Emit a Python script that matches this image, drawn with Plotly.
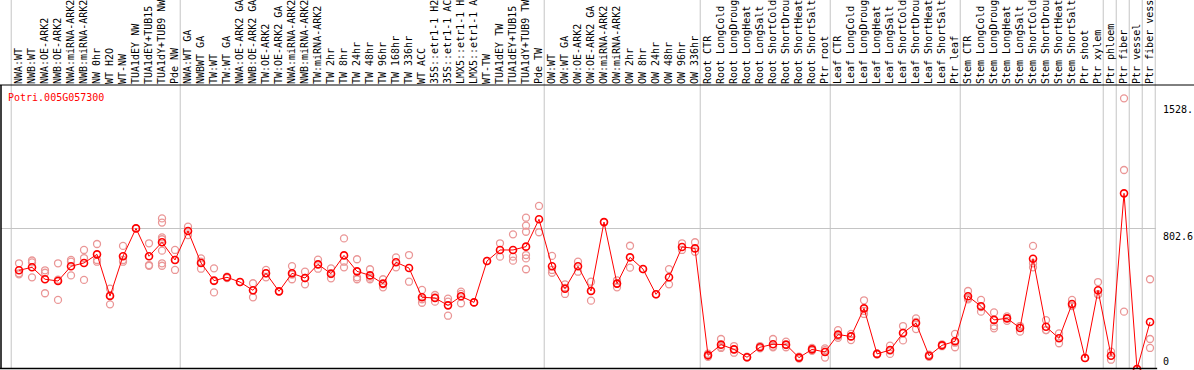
import plotly.graph_objects as go

labels = [
    "NWA:WT", "NWB:WT", "NWA:OE-ARK2", "NWB:OE-ARK2", "NWA:miRNA-ARK2", "NWB:miRNA-ARK2",
    "NW 0hr", "WT H2O", "WT-NW", "TUA1dEY NW", "TUA1dEY+TUB15", "TUA1dY+TUB9 NW", "Pde NW",
    "NWA:WT GA", "NWBWT GA", "TW:WT", "TW:WT GA", "NWA:OE-ARK2 GA", "NWB:OE-ARK2 GA",
    "TW:OE-ARK2", "TW:OE-ARK2 GA", "NWA:miRNA-ARK2", "NWB:miRNA-ARK2", "TW:miRNA-ARK2",
    "TW 2hr", "TW 8hr", "TW 24hr", "TW 48hr", "TW 96hr", "TW 168hr", "TW 336hr", "WT ACC",
    "35S::etr1-1 H2", "35S::etr1-1 AC", "LMX5::etr1-1 H", "LMX5::etr1-1 A", "WT-TW",
    "TUA1dEY TW", "TUA1dEY+TUB15", "TUA1dY+TUB9 TW", "Pde TW",
    "OW:WT", "OW:WT GA", "OW:OE-ARK2", "OW:OE-ARK2 GA", "OW:miRNA-ARK2", "OW:miRNA-ARK2",
    "OW 2hr", "OW 8hr", "OW 24hr", "OW 48hr", "OW 96hr", "OW 336hr",
    "Root CTR", "Root LongCold", "Root LongDroug", "Root LongHeat", "Root LongSalt",
    "Root ShortCold", "Root ShortDrou", "Root ShortHeat", "Root ShortSalt", "Ptr root",
    "Leaf CTR", "Leaf LongCold", "Leaf LongDroug", "Leaf LongHeat", "Leaf LongSalt",
    "Leaf ShortCold", "Leaf ShortDrou", "Leaf ShortHeat", "Leaf ShortSalt", "Ptr leaf",
    "Stem CTR", "Stem LongCold", "Stem LongDroug", "Stem LongHeat", "Stem LongSalt",
    "Stem ShortCold", "Stem ShortDrou", "Stem ShortHeat", "Stem ShortSalt", "Ptr shoot",
    "Ptr xylem", "Ptr phloem", "Ptr fiber", "Ptr vessel", "Ptr fiber vess",
]

means = [
    563, 580, 512, 502, 586, 605, 654, 416, 643, 802, 643, 723, 622,
    787, 605, 504, 523, 496, 449, 546, 443, 546, 519, 597, 544, 648, 557, 534,
    487, 609, 576, 409, 405, 363, 415, 380, 616, 679, 679, 698, 854,
    586, 458, 586, 445, 838, 487, 637, 570, 426, 523, 696, 688,
    78, 139, 112, 67, 124, 141, 139, 65, 112, 97,
    196, 186, 346, 86, 108, 205, 262, 76, 135, 158,
    415, 358, 280, 289, 234, 629, 241, 175, 371, 63,
    449, 76, 1002, 0, 268,
]

replicates = [
    [603, 546, 540], [619, 608, 523], [563, 549, 432], [603, 509, 394], [622, 612, 534],
    [679, 633, 508], [713, 622, 612], [458, 421, 369], [702, 622, 612], [802],
    [717, 593, 589], [859, 835, 751, 740, 675, 603, 589], [679, 622, 565],
    [812, 764], [631, 612, 572], [574, 501, 437], [527, 519], [496],
    [489, 449, 409], [565, 546, 523], [443], [587, 539, 512], [555, 519, 483],
    [624, 572], [574, 541, 517], [745, 612, 580], [626, 523, 512], [569, 521, 512],
    [512, 483, 466], [637, 580], [650, 498], [451, 398, 378], [422, 409, 384],
    [401, 384, 304], [441, 428, 375], [380], [616], [717, 641], [768, 641, 618],
    [863, 818, 783, 650, 631, 569], [930, 780],
    [645, 565, 549], [483, 462, 428], [612, 555], [498, 447, 390], [838],
    [506, 487, 466], [703, 578], [570], [426], [570, 483], [717, 679], [723, 669],
    [87, 78, 70], [171, 126, 120], [131, 112, 93], [70, 65], [131, 118],
    [171, 128, 124], [156, 137, 124], [70, 60], [120, 112, 104], [118, 108, 65],
    [222, 188, 178], [200, 186, 165], [392, 332, 314], [89, 82], [133, 105, 86],
    [245, 207, 163], [289, 269, 228], [82, 70], [141, 130], [200, 150, 124],
    [445, 403, 397], [394, 353, 327], [323, 245, 232], [300, 290, 275], [245, 244, 213],
    [702, 603, 580], [279, 222, 222], [203, 147], [394, 362, 359], [63],
    [496, 426, 425], [99, 53], [1544, 1135, 327], [0], [512, 171, 120],
]

group_bounds = [-0.5, 12.5, 40.5, 52.5, 62.5, 72.5, 83.5, 84.5, 85.5, 86.5, 87.5]
y_ticks = [0, 802.6, 1528.3]
y_ticktext = ["0", "802.6", "1528."]
gene_id = "Potri.005G057300"

MONO = "DejaVu Sans Mono"
x = list(range(len(labels)))

rep_x, rep_y = [], []
for i, reps in enumerate(replicates):
    for v in reps:
        rep_x.append(i)
        rep_y.append(v)

fig = go.Figure()
fig.add_trace(go.Scatter(
    x=rep_x, y=rep_y, mode="markers", showlegend=False, hoverinfo="skip",
    marker=dict(symbol="circle-open", size=7, color="#ea9696", line=dict(width=1.3, color="#ea9696")),
    cliponaxis=False,
))
fig.add_trace(go.Scatter(
    x=x, y=means, mode="lines+markers", showlegend=False,
    line=dict(color="#ff0000", width=1),
    marker=dict(symbol="circle-open", size=7, color="#ff0000", line=dict(width=1.6, color="#ff0000")),
    cliponaxis=False,
))

top_extra = 85 / 284.0
shapes = []
for b in group_bounds:
    shapes.append(dict(type="line", xref="x", yref="paper", x0=b - 0.1, x1=b - 0.1,
                       y0=0, y1=1 + top_extra, line=dict(color="#c4c4c4", width=1), layer="below"))
# frame lines
shapes.append(dict(type="line", xref="paper", yref="paper", x0=-0.01, x1=1.04, y0=1, y1=1,
                   line=dict(color="black", width=1)))
shapes.append(dict(type="line", xref="paper", yref="paper", x0=0, x1=0, y0=0, y1=1,
                   line=dict(color="black", width=1.5)))
shapes.append(dict(type="line", xref="paper", yref="paper", x0=-0.01, x1=1.001, y0=0.002, y1=0.002,
                   line=dict(color="black", width=1.5)))

annotations = [dict(text=gene_id, xref="paper", yref="paper", x=0, y=1, xanchor="left", yanchor="top",
                    xshift=5, yshift=-5, showarrow=False, font=dict(family=MONO, size=10, color="#ff0000"))]
for v, t in zip(y_ticks, y_ticktext):
    annotations.append(dict(text=t, xref="paper", yref="y", x=1, y=v, xanchor="left",
                            yanchor="bottom" if v == 0 else "top", xshift=5, yshift=-1 if v != 0 else 0,
                            showarrow=False, font=dict(family=MONO, size=10, color="black")))

fig.update_layout(
    width=1194, height=370,
    margin=dict(l=1, r=38, t=85, b=1, autoexpand=False),
    paper_bgcolor="white", plot_bgcolor="white",
    font=dict(family=MONO, size=10, color="black"),
    shapes=shapes, annotations=annotations,
    xaxis=dict(range=[-1.385, 87.46], side="top", tickmode="array", tickvals=x, ticktext=labels,
               tickangle=-90, tickfont=dict(family=MONO, size=10, color="black"), ticks="",
               showgrid=False, zeroline=False, showline=False, automargin=False, fixedrange=True),
    yaxis=dict(range=[0, 1620], side="right", tickmode="array", tickvals=[802.6], showticklabels=False,
               showgrid=True, gridcolor="#c4c4c4", gridwidth=1, zeroline=False, showline=False,
               ticks="", automargin=False, fixedrange=True),
)

fig.write_html("out.html", config={"displayModeBar": False},
               post_script="document.body.style.margin='0';document.body.style.overflow='hidden';")
